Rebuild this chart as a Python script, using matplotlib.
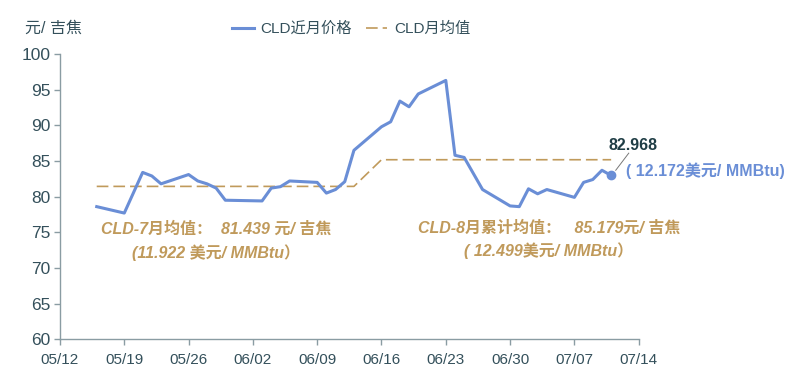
import numpy as np
import pandas as pd
import matplotlib
matplotlib.use('Agg')
import matplotlib.pyplot as plt
import matplotlib.dates as mdates

plt.rcParams['font.family'] = ['Liberation Sans', 'Noto Sans CJK SC', 'DejaVu Sans']
plt.rcParams['axes.unicode_minus'] = False

# 数据
dates = ['2025-05-16', '2025-05-19', '2025-05-21', '2025-05-22', '2025-05-23',
         '2025-05-26', '2025-05-27', '2025-05-28', '2025-05-29', '2025-05-30',
         '2025-06-03', '2025-06-04', '2025-06-05', '2025-06-06',
         '2025-06-09', '2025-06-10', '2025-06-11', '2025-06-12', '2025-06-13',
         '2025-06-16', '2025-06-17', '2025-06-18', '2025-06-19', '2025-06-20',
         '2025-06-23', '2025-06-24', '2025-06-25', '2025-06-27',
         '2025-06-30', '2025-07-01', '2025-07-02', '2025-07-03', '2025-07-04',
         '2025-07-07', '2025-07-08', '2025-07-09', '2025-07-10', '2025-07-11']
price = [78.6, 77.7, 83.4, 82.9, 81.8,
         83.1, 82.2, 81.8, 81.2, 79.5,
         79.4, 81.2, 81.4, 82.2,
         82.0, 80.5, 81.0, 82.1, 86.5,
         89.8, 90.5, 93.4, 92.6, 94.4,
         96.3, 85.8, 85.5, 81.0,
         78.7, 78.6, 81.1, 80.4, 81.0,
         79.9, 82.0, 82.4, 83.7, 82.968]
mean_jul = 81.439
mean_aug = 85.179
switch_date = '2025-06-16'

tick_dates = ['2025-05-12', '2025-05-19', '2025-05-26', '2025-06-02', '2025-06-09',
              '2025-06-16', '2025-06-23', '2025-06-30', '2025-07-07', '2025-07-14']

x = pd.to_datetime(dates)
monthly_mean = np.where(x < pd.Timestamp(switch_date), mean_jul, mean_aug)

blue = '#6a8ed6'
tan = '#c09a5b'
txt = '#34505b'
axis_c = '#8a9ca3'

fig = plt.figure(figsize=(8.04, 3.85), dpi=100)
ax = fig.add_axes([0.0746, 0.1187, 0.7198, 0.741])

ax.plot(x, price, color=blue, linewidth=2.2, label='CLD近月价格', zorder=3)
ax.plot(x, monthly_mean, color=tan, linewidth=1.2, dashes=(7, 3), label='CLD月均值', zorder=2)
ax.plot(x[-1:], price[-1:], 'o', color=blue, markersize=6, zorder=4)

ticks = pd.to_datetime(tick_dates)
ax.set_xlim(ticks[0], ticks[-1])
ax.set_xticks(ticks)
ax.xaxis.set_major_formatter(mdates.DateFormatter('%m/%d'))
ax.set_ylim(60, 100)
ax.set_yticks(np.arange(60, 101, 5))

for s in ['top', 'right']:
    ax.spines[s].set_visible(False)
for s in ['left', 'bottom']:
    ax.spines[s].set_color(axis_c)
    ax.spines[s].set_linewidth(1.0)
ax.tick_params(axis='both', colors=axis_c, labelcolor=txt, length=4, width=1)
ax.tick_params(axis='x', labelsize=11, pad=6)
ax.tick_params(axis='y', labelsize=12.5, pad=3)

fig.text(25 / 804, 1 - 28 / 385, '元/ 吉焦', fontsize=11.5, color=txt, va='center', ha='left')

fig.legend(loc='center', bbox_to_anchor=(0.437, 0.925), ncol=2, frameon=False,
           fontsize=11, handlelength=1.4, columnspacing=0.9, handletextpad=0.45,
           labelcolor=txt)

# 注释
d = lambda s: pd.Timestamp(s)
ax.text(d('2025-05-29'), 75.5, 'CLD-7月均值：  81.439 元/ 吉焦', color=tan, fontsize=11.5,
        fontweight='bold', style='italic', ha='center', va='center')
ax.text(d('2025-05-29'), 72.2, '(11.922 美元/ MMBtu）', color=tan, fontsize=11.5,
        fontweight='bold', style='italic', ha='center', va='center')
ax.text(d('2025-07-04') + pd.Timedelta(hours=5), 75.6, 'CLD-8月累计均值：   85.179元/ 吉焦', color=tan,
        fontsize=11.5, fontweight='bold', style='italic', ha='center', va='center')
ax.text(d('2025-07-04') + pd.Timedelta(hours=5), 72.5, '( 12.499美元/ MMBtu）', color=tan,
        fontsize=11.5, fontweight='bold', style='italic', ha='center', va='center')

ax.text(d('2025-07-13') + pd.Timedelta(hours=10), 87.2, f'{price[-1]:.3f}', color='#1f3d45',
        fontsize=11.5, fontweight='bold', ha='center', va='center')
ax.plot([d('2025-07-11') + pd.Timedelta(hours=12), d('2025-07-12') + pd.Timedelta(hours=22)],
        [83.7, 86.1], color='#777777', linewidth=0.7, clip_on=False)
ax.text(d('2025-07-12') + pd.Timedelta(hours=16), 83.6, '( 12.172美元/ MMBtu)', color=blue,
        fontsize=11.5, fontweight='bold', ha='left', va='center')

fig.savefig('out.png', dpi=100)
